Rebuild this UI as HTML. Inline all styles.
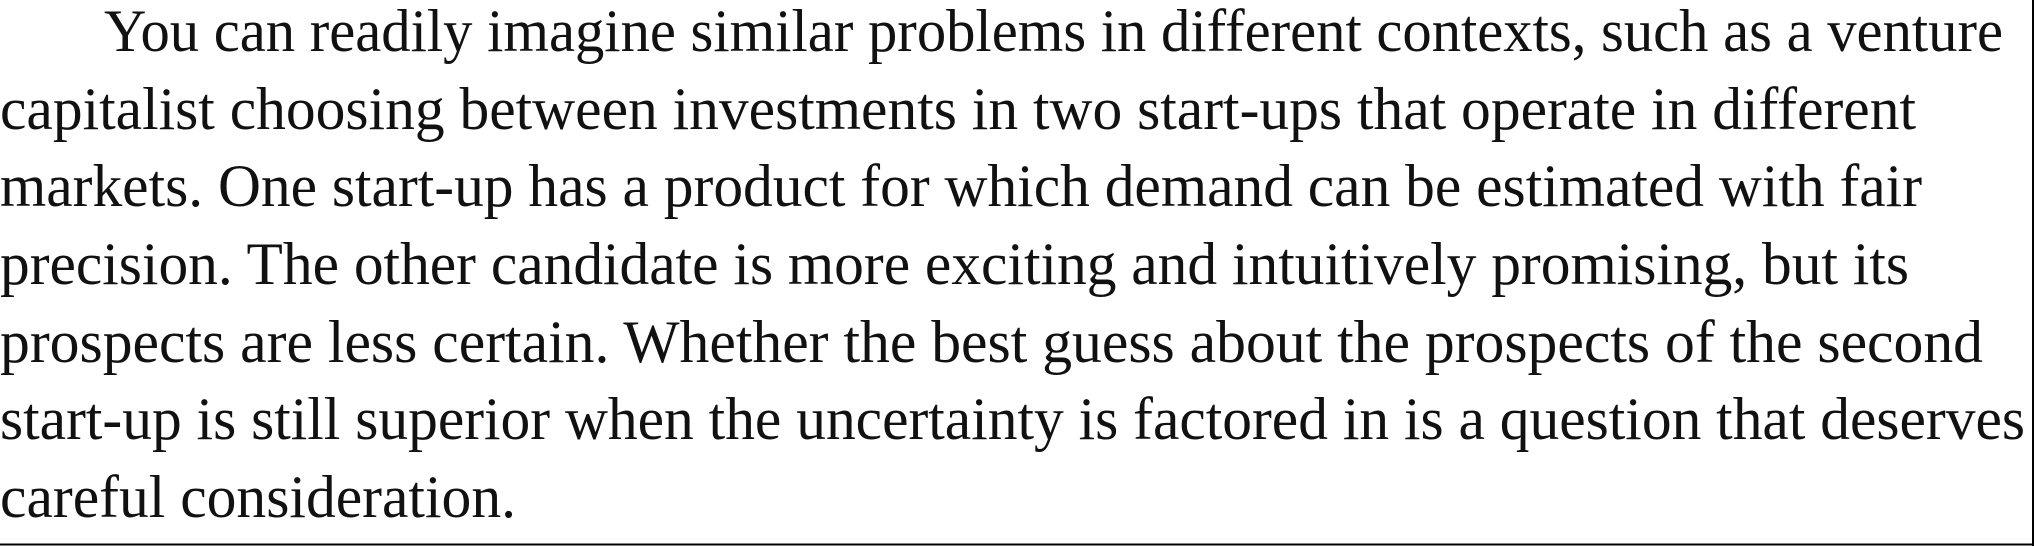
<!DOCTYPE html>
<html><head><meta charset="utf-8"><style>
html,body{margin:0;padding:0;background:#fff;}
svg{display:block;}
text{font-family:"Liberation Serif",serif;font-size:60px;fill:#111;}
</style></head><body>
<svg width="2039" height="546">
<rect x="0" y="0" width="2039" height="546" fill="#fff"/>
<line x1="2033" y1="0" x2="2033" y2="546" stroke="#000" stroke-width="2"/>
<line x1="0" y1="544.5" x2="2034" y2="544.5" stroke="#000" stroke-width="2"/>
<text x="104" y="51" textLength="1899" lengthAdjust="spacingAndGlyphs">You can readily imagine similar problems in different contexts, such as a venture</text>
<text x="0" y="129" textLength="1916" lengthAdjust="spacingAndGlyphs">capitalist choosing between investments in two start-ups that operate in different</text>
<text x="0" y="206" textLength="1922" lengthAdjust="spacingAndGlyphs">markets. One start-up has a product for which demand can be estimated with fair</text>
<text x="0" y="284" textLength="1909" lengthAdjust="spacingAndGlyphs">precision. The other candidate is more exciting and intuitively promising, but its</text>
<text x="0" y="362" textLength="1983" lengthAdjust="spacingAndGlyphs">prospects are less certain. Whether the best guess about the prospects of the second</text>
<text x="0" y="439" textLength="2025" lengthAdjust="spacingAndGlyphs">start-up is still superior when the uncertainty is factored in is a question that deserves</text>
<text x="0" y="517" textLength="516" lengthAdjust="spacingAndGlyphs">careful consideration.</text>
</svg>
</body></html>
